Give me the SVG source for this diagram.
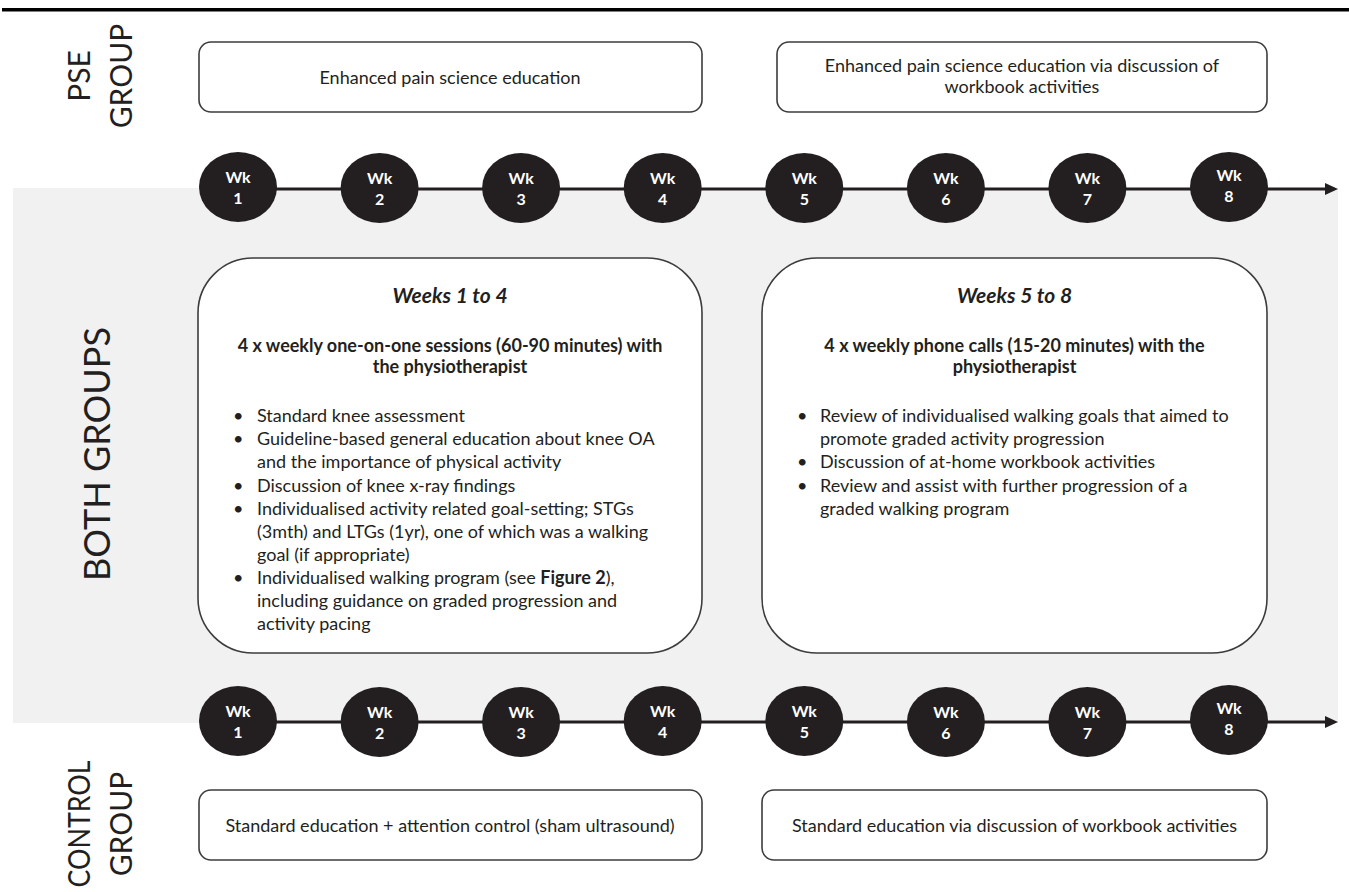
<svg xmlns="http://www.w3.org/2000/svg" width="1349" height="892" viewBox="0 0 1349 892">
<defs>
<style>
.t{font-family:Lato,"Open Sans","Liberation Sans",sans-serif;fill:#231f20}
.body{font-size:18px}
.bold{font-weight:bold}
.side{font-size:30px;text-anchor:middle}
.box{fill:#fff;stroke:#3c3c3c;stroke-width:1.6}
.mid{text-anchor:middle}
.hd{font-size:21px;font-weight:bold;font-style:italic}
.wk{font-family:Lato,"Open Sans","Liberation Sans",sans-serif;font-weight:bold;font-size:16px;fill:#fff;text-anchor:middle}
.dot{fill:#231f20}
.tl{stroke:#231f20;stroke-width:3;fill:none}
</style>
<marker id="arr" markerUnits="userSpaceOnUse" markerWidth="14" markerHeight="14" refX="0" refY="7" orient="auto">
<path d="M0,1 L13,7 L0,13 Z" fill="#231f20"/>
</marker>
</defs>
<rect width="1349" height="892" fill="#fff"/>
<rect x="2" y="8" width="1347" height="3.5" fill="#000"/>
<rect id="both-panel" x="13" y="188" width="1325" height="535" fill="#f1f1f1"/>

<g id="labels" class="t">
<text class="t side" transform="translate(90,76) rotate(-90)">PSE</text>
<text class="t side" transform="translate(132,76) rotate(-90)">GROUP</text>
<text class="t side" style="font-size:36px" transform="translate(110,454) rotate(-90)">BOTH GROUPS</text>
<text class="t side" transform="translate(90,824) rotate(-90)" textLength="127" lengthAdjust="spacingAndGlyphs">CONTROL</text>
<text class="t side" transform="translate(132,824) rotate(-90)">GROUP</text>
</g>

<g id="pse-1">
<rect class="box" x="199" y="42" width="503" height="70" rx="12"/>
<text class="t body mid" x="450" y="84">Enhanced pain science education</text>
</g>
<g id="pse-2">
<rect class="box" x="777" y="42" width="490" height="70" rx="12"/>
<text class="t body mid" x="1022" y="72">Enhanced pain science education via discussion of</text>
<text class="t body mid" x="1022" y="93">workbook activities</text>
</g>

<g id="connectors">
<line class="tl" x1="238" y1="189" x2="1325" y2="189" marker-end="url(#arr)"/>
<line class="tl" x1="238" y1="722" x2="1325" y2="722" marker-end="url(#arr)"/>
</g>

<g id="top-wk1"><ellipse class="dot" cx="238" cy="187" rx="39" ry="35"/><text class="wk" x="238" y="183">Wk</text><text class="wk" x="238" y="204">1</text></g>
<g id="top-wk2"><ellipse class="dot" cx="379.6" cy="188" rx="39" ry="35"/><text class="wk" x="379.6" y="184">Wk</text><text class="wk" x="379.6" y="205">2</text></g>
<g id="top-wk3"><ellipse class="dot" cx="521.1" cy="188" rx="39" ry="35"/><text class="wk" x="521.1" y="184">Wk</text><text class="wk" x="521.1" y="205">3</text></g>
<g id="top-wk4"><ellipse class="dot" cx="662.7" cy="188" rx="39" ry="35"/><text class="wk" x="662.7" y="184">Wk</text><text class="wk" x="662.7" y="205">4</text></g>
<g id="top-wk5"><ellipse class="dot" cx="804.3" cy="188" rx="39" ry="35"/><text class="wk" x="804.3" y="184">Wk</text><text class="wk" x="804.3" y="205">5</text></g>
<g id="top-wk6"><ellipse class="dot" cx="945.9" cy="188" rx="39" ry="35"/><text class="wk" x="945.9" y="184">Wk</text><text class="wk" x="945.9" y="205">6</text></g>
<g id="top-wk7"><ellipse class="dot" cx="1087.4" cy="188" rx="39" ry="35"/><text class="wk" x="1087.4" y="184">Wk</text><text class="wk" x="1087.4" y="205">7</text></g>
<g id="top-wk8"><ellipse class="dot" cx="1229" cy="187" rx="39" ry="35"/><text class="wk" x="1229" y="181">Wk</text><text class="wk" x="1229" y="202">8</text></g>

<g id="bot-wk1"><ellipse class="dot" cx="238" cy="721" rx="39" ry="35"/><text class="wk" x="238" y="717">Wk</text><text class="wk" x="238" y="738">1</text></g>
<g id="bot-wk2"><ellipse class="dot" cx="379.6" cy="722" rx="39" ry="35"/><text class="wk" x="379.6" y="718">Wk</text><text class="wk" x="379.6" y="739">2</text></g>
<g id="bot-wk3"><ellipse class="dot" cx="521.1" cy="722" rx="39" ry="35"/><text class="wk" x="521.1" y="718">Wk</text><text class="wk" x="521.1" y="739">3</text></g>
<g id="bot-wk4"><ellipse class="dot" cx="662.7" cy="721" rx="39" ry="35"/><text class="wk" x="662.7" y="717">Wk</text><text class="wk" x="662.7" y="738">4</text></g>
<g id="bot-wk5"><ellipse class="dot" cx="804.3" cy="721" rx="39" ry="35"/><text class="wk" x="804.3" y="717">Wk</text><text class="wk" x="804.3" y="738">5</text></g>
<g id="bot-wk6"><ellipse class="dot" cx="945.9" cy="722" rx="39" ry="35"/><text class="wk" x="945.9" y="718">Wk</text><text class="wk" x="945.9" y="739">6</text></g>
<g id="bot-wk7"><ellipse class="dot" cx="1087.4" cy="722" rx="39" ry="35"/><text class="wk" x="1087.4" y="718">Wk</text><text class="wk" x="1087.4" y="739">7</text></g>
<g id="bot-wk8"><ellipse class="dot" cx="1229" cy="720" rx="39" ry="35"/><text class="wk" x="1229" y="714">Wk</text><text class="wk" x="1229" y="735">8</text></g>

<g id="weeks-1-4">
<rect class="box" x="198" y="258" width="504" height="395" rx="55"/>
<text class="t mid hd" x="450" y="303">Weeks 1 to 4</text>
<text class="t body bold mid" x="450" y="352">4 x weekly one-on-one sessions (60-90 minutes) with</text>
<text class="t body bold mid" x="450" y="373">the physiotherapist</text>
<g class="t body">
<text x="233" y="422">•</text><text x="257" y="422">Standard knee assessment</text>
<text x="233" y="445">•</text><text x="257" y="445">Guideline-based general education about knee OA</text>
<text x="257" y="468">and the importance of physical activity</text>
<text x="233" y="492">•</text><text x="257" y="492">Discussion of knee x-ray findings</text>
<text x="233" y="515">•</text><text x="257" y="515">Individualised activity related goal-setting; STGs</text>
<text x="257" y="538">(3mth) and LTGs (1yr), one of which was a walking</text>
<text x="257" y="561">goal (if appropriate)</text>
<text x="233" y="584">•</text><text x="257" y="584">Individualised walking program (see <tspan font-weight="bold">Figure 2</tspan>),</text>
<text x="257" y="607">including guidance on graded progression and</text>
<text x="257" y="630">activity pacing</text>
</g>
</g>

<g id="weeks-5-8">
<rect class="box" x="762" y="258" width="505" height="395" rx="55"/>
<text class="t mid hd" x="1014.5" y="303">Weeks 5 to 8</text>
<text class="t body bold mid" x="1014.5" y="352">4 x weekly phone calls (15-20 minutes) with the</text>
<text class="t body bold mid" x="1014.5" y="373">physiotherapist</text>
<g class="t body">
<text x="797" y="422">•</text><text x="820" y="422">Review of individualised walking goals that aimed to</text>
<text x="820" y="445">promote graded activity progression</text>
<text x="797" y="468">•</text><text x="820" y="468">Discussion of at-home workbook activities</text>
<text x="797" y="492">•</text><text x="820" y="492">Review and assist with further progression of a</text>
<text x="820" y="515">graded walking program</text>
</g>
</g>

<g id="control-1">
<rect class="box" x="199" y="790" width="503" height="70" rx="12"/>
<text class="t body mid" x="450" y="832">Standard education + attention control (sham ultrasound)</text>
</g>
<g id="control-2">
<rect class="box" x="762" y="790" width="505" height="70" rx="12"/>
<text class="t body mid" x="1014.5" y="832">Standard education via discussion of workbook activities</text>
</g>
</svg>
